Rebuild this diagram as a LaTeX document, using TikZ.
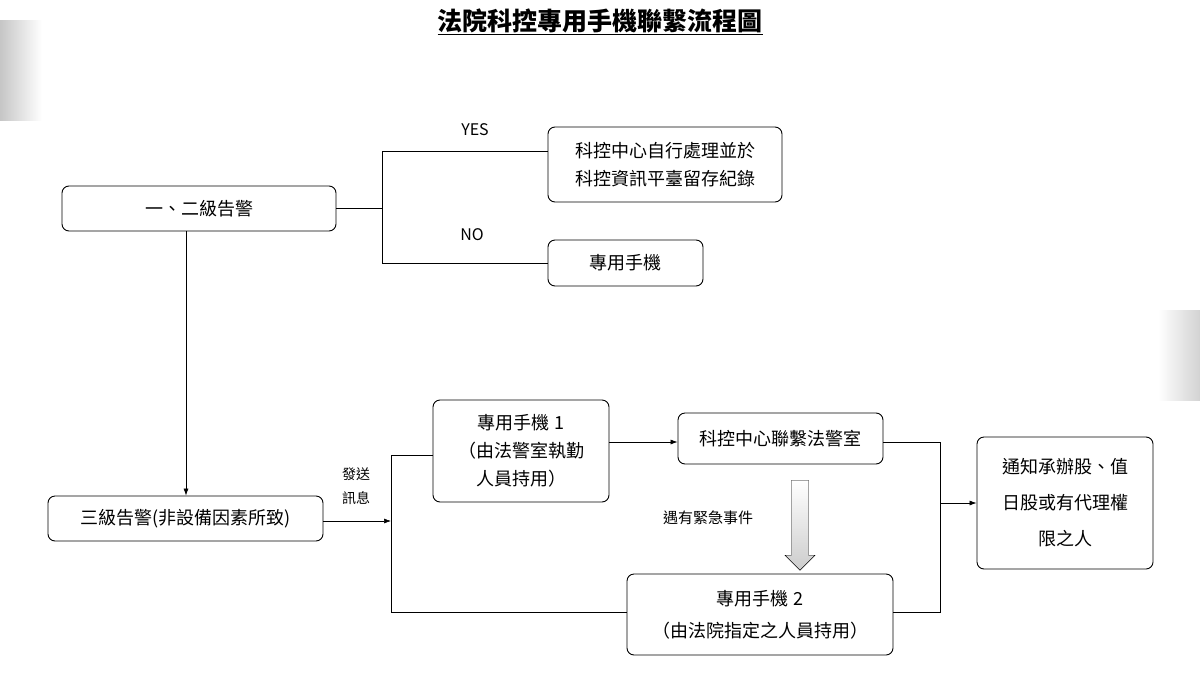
\documentclass[tikz,border=0pt]{standalone}
\usepackage{fontspec}
\setmainfont{Noto Sans CJK TC}
\usetikzlibrary{arrows.meta,shapes.arrows}
\begin{document}
\begin{tikzpicture}[x=1pt,y=-1pt,
  box/.style={draw,rounded corners=7pt,line width=0.9pt,align=center,font=\fontsize{18}{28}\selectfont,inner sep=0pt},
  ln/.style={line width=0.6pt},
  ar/.style={ln,-{Latex[length=7pt,width=5pt]}},
  lab/.style={font=\fontsize{16}{22}\selectfont,align=center}]
\useasboundingbox (0,0) rectangle (1200,675);
\shade[left color=gray!45,right color=white] (0,20) rectangle (42,120);
\shade[right color=gray!35,left color=white] (1158,310) rectangle (1200,400);
\node[font=\bfseries\fontsize{25}{28}\selectfont] (title) at (600,22) {\underline{法院科控專用手機聯繫流程圖}};
\node[box,minimum width=274pt,minimum height=45pt] (A) at (199,208.5) {一、二級告警};
\node[box,minimum width=234pt,minimum height=75pt] (B) at (665,164.5) {科控中心自行處理並於\\科控資訊平臺留存紀錄};
\node[box,minimum width=155pt,minimum height=46pt] (C) at (625.5,263) {專用手機};
\node[box,minimum width=275pt,minimum height=45pt] (D) at (185.5,518.5) {三級告警(非設備因素所致)};
\node[box,minimum width=176pt,minimum height=102pt] (E) at (521,451) {專用手機 1\\（由法警室執勤\\人員持用）};
\node[box,minimum width=205pt,minimum height=51pt] (F) at (780.5,438.5) {科控中心聯繫法警室};
\node[box,minimum width=266pt,minimum height=81pt,font=\fontsize{18}{32}\selectfont] (G) at (760,614.5) {專用手機 2\\（由法院指定之人員持用）};
\node[box,minimum width=176pt,minimum height=132pt,font=\fontsize{18}{36}\selectfont] (H) at (1065,503) {通知承辦股、值\\日股或有代理權\\限之人};
\coordinate (a1) at (382,208);
\draw[ln] (A.east|-a1) -- (a1);
\draw[ln] (B.west|-0,151) -| (382,263) -- (C.west|-0,263);
\node[lab] (yes) at (475,130) {YES};
\node[lab] (no) at (472,235) {NO};
\draw[ar] (A.south-|186,0) -- (D.north-|186,0);
\coordinate (j) at (391,521);
\draw[ar] (D.east|-j) -- (j);
\node[lab,font=\fontsize{14}{24}\selectfont] (send) at (356,486) {發送\\訊息};
\draw[ln] (E.west|-0,455) -- (391,455) -- (391,612) -- (G.west|-0,612);
\draw[ar] (E.east|-0,442) -- (F.west|-0,442);
\node[shape=single arrow,draw,shape border rotate=270,minimum width=30pt,single arrow head extend=4pt,single arrow head indent=0pt,minimum height=90pt,inner sep=5pt,top color=white,bottom color=gray!40] (dn) at (800,521) {};
\node[lab,font=\fontsize{15}{22}\selectfont] (emg) at (708,518) {遇有緊急事件};
\draw[ln] (F.east|-0,442) -- (940,442) -- (940,612) -- (G.east|-0,612);
\draw[ar] (940,503) -- (H.west|-0,503);
\end{tikzpicture}
\end{document}
